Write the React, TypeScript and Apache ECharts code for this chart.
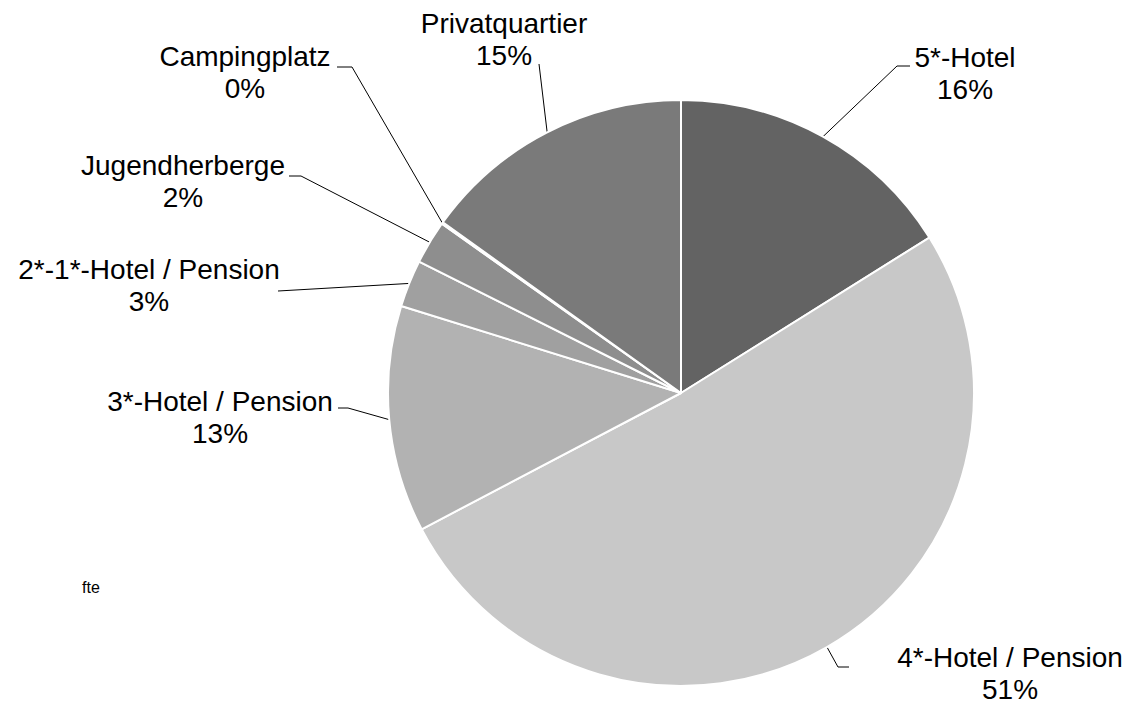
import React, { useEffect, useRef } from "react";
import * as echarts from "echarts";

const categories = [
  "5*-Hotel",
  "4*-Hotel / Pension",
  "3*-Hotel / Pension",
  "2*-1*-Hotel / Pension",
  "Jugendherberge",
  "Campingplatz",
  "Privatquartier",
];
const values = [16.1, 51.2, 12.5, 2.6, 2.4, 0.1, 15.1];
const colors = ["#636363", "#c8c8c8", "#b2b2b2", "#a0a0a0", "#8e8e8e", "#858585", "#7a7a7a"];

// label block centres and leader-line elbows / ends (pixels)
const labelCenters: number[][] = [
  [965, 73],
  [1010, 673],
  [220, 417],
  [149, 285],
  [183, 181],
  [245, 72],
  [504, 39],
];
const lineElbows: number[][] = [
  [897, 66],
  [838, 667],
  [348, 408],
  [278, 291],
  [301, 176],
  [352, 67],
  [539, 64],
];
const lineEnds: number[][] = [
  [910, 66],
  [849, 667],
  [338, 408],
  [278, 291],
  [289, 176],
  [337, 67],
  [539, 64],
];

export default function App() {
  const ref = useRef<HTMLDivElement>(null);
  useEffect(() => {
    document.body.style.margin = "0";
    const chart = echarts.init(ref.current!, null, { renderer: "svg" });
    chart.setOption({
      animation: false,
      backgroundColor: "#ffffff",
      graphic: [
        {
          type: "text",
          left: 82,
          top: 579,
          style: {
            text: "fte",
            fontSize: 16,
            fontFamily: "Liberation Sans, Arial, sans-serif",
            fill: "#000",
          },
        },
      ],
      series: [
        {
          type: "pie",
          center: [681, 393],
          radius: [0, 293],
          startAngle: 90,
          clockwise: true,
          avoidLabelOverlap: false,
          silent: true,
          itemStyle: { borderColor: "#ffffff", borderWidth: 2 },
          label: {
            show: true,
            position: "outside",
            color: "#000",
            fontSize: 28,
            lineHeight: 32,
            align: "center",
            fontFamily: "Liberation Sans, Arial, sans-serif",
            formatter: (p: any) => `${p.name}\n${Math.round(p.percent)}%`,
          },
          labelLine: {
            show: true,
            length: 20,
            length2: 10,
            lineStyle: { color: "#000", width: 1 },
          },
          labelLayout: (params: any) => {
            const i = params.dataIndex;
            const pts = params.labelLinePoints;
            const start = pts && pts[0] ? pts[0] : lineElbows[i];
            return {
              x: labelCenters[i][0],
              y: labelCenters[i][1],
              align: "center",
              verticalAlign: "middle",
              labelLinePoints: [
                [start[0], start[1]],
                lineElbows[i],
                lineEnds[i],
              ],
            };
          },
          data: categories.map((name, i) => ({
            name,
            value: values[i],
            itemStyle: { color: colors[i] },
          })),
        },
      ],
    });
    return () => chart.dispose();
  }, []);
  return <div ref={ref} style={{ width: 1139, height: 703 }} />;
}
